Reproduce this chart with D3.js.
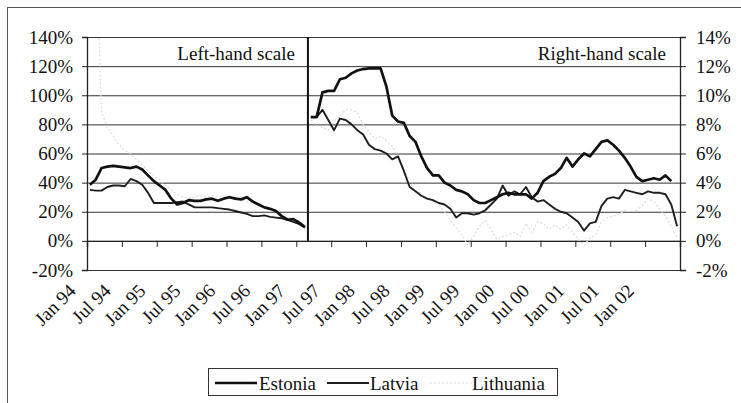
<!DOCTYPE html>
<html>
<head>
<meta charset="utf-8">
<script src="https://cdn.jsdelivr.net/npm/d3@7"></script>
<style>
body{margin:0;background:#fff;}
svg{display:block;}
svg text{font-family:"Liberation Serif","Times New Roman",serif;}
</style>
</head>
<body>
<svg id="chart" width="741" height="403"></svg>
<script>
// monthly values, Jan 94 .. Jun 02 (index 0 = Jan 94)
var tickLabels = ["Jan 94","Jul 94","Jan 95","Jul 95","Jan 96","Jul 96","Jan 97","Jul 97",
	"Jan 98","Jul 98","Jan 99","Jul 99","Jan 00","Jul 00","Jan 01","Jul 01","Jan 02"];
var leftTicks = [-20,0,20,40,60,80,100,120,140];
var rightTicks = [-2,0,2,4,6,8,10,12,14];
var splitAt = 38; // from Mar 97 the series are read against the right-hand scale

var estonia = [38.5,42,50,51,51.5,51,50.5,50,51,49,45,41,38,35,29,25,26,28,27.5,27.5,
	28.5,29,27.5,29,30,29,28.5,30,27,25,23,22,20.5,17,14.5,15,12.5,9.5,
	8.5,8.5,10.2,10.3,10.3,11.1,11.2,11.5,11.7,11.8,11.85,11.85,11.85,10.6,8.6,8.2,8.1,7.2,6.8,5.8,5.0,4.5,
	4.5,4.0,3.8,3.5,3.4,3.2,2.8,2.6,2.6,2.8,3.0,3.2,3.3,3.2,3.2,3.2,2.9,3.3,4.1,4.4,
	4.6,5.0,5.7,5.1,5.6,6.0,5.8,6.3,6.8,6.9,6.6,6.2,5.7,5.1,4.4,4.1,4.2,4.3,4.2,4.5,4.1];
var latvia = [35,34.5,34.5,37,38,38,37.5,42.5,41,38.5,33,26,26,26,26,26.5,27,25,23,23,
	23,23,22.5,22,21.5,20.5,19.5,18.5,17,17,17.5,16.5,16,15.5,14.5,13,11.5,9,
	8.5,8.5,9.0,8.3,7.6,8.4,8.3,8.0,7.6,7.3,6.6,6.3,6.2,6.0,5.6,5.8,4.8,3.7,3.4,3.1,2.9,2.8,
	2.6,2.5,2.2,1.6,1.9,1.9,1.8,1.9,2.1,2.5,2.9,3.8,3.1,3.4,3.2,3.7,3.0,2.7,2.8,2.5,
	2.2,2.0,1.9,1.6,1.3,0.7,1.2,1.3,2.4,2.9,3.0,2.9,3.5,3.4,3.3,3.2,3.4,3.3,3.3,3.2,2.5,1.0];
var lithuania = [215,206,88,78,72,66,62,60,56,52,48,45,42,38,35,32,30,29,30,31,
	30,31,30,31,31,29,28,27,26,25,24,22,20,18,16,15,13,10,
	8.3,7.9,7.8,7.6,8.2,8.6,9.0,9.0,8.8,8.0,7.5,7.0,7.2,6.9,6.5,5.8,5.0,4.0,3.4,3.3,2.9,2.7,
	2.4,2.0,1.4,0.9,0.4,-0.3,0.3,1.0,1.4,0.8,0.1,0.3,0.4,0.6,0.3,1.2,0.6,1.3,1.2,0.8,
	1.1,0.8,1.1,0.6,0.1,-0.3,0.2,0.4,1.3,1.6,1.7,1.8,2.1,2.0,2.1,2.4,2.9,2.7,2.2,1.7,1.0,0.2];

var series = [
	{name:"Lithuania", values:lithuania, color:"#dcdcdc", width:1.2, dash:"2,2"},
	{name:"Latvia", values:latvia, color:"#1e1e1e", width:1.9, dash:null},
	{name:"Estonia", values:estonia, color:"#111", width:2.7, dash:null}
];

var dim = {left:87, right:680, top:37, bottom:270};
var nMonths = 102;
var serif = "Liberation Serif, Times New Roman, serif";

var svg = d3.select("#chart").attr("font-family", serif);

var x = d3.scaleLinear().domain([0, nMonths]).range([dim.left, dim.right]);
var yL = d3.scaleLinear().domain([-20, 140]).range([dim.bottom, dim.top]);
var yR = d3.scaleLinear().domain([-2, 14]).range([dim.bottom, dim.top]);

// outer frame
svg.append("rect")
	.attr("x", 7.5).attr("y", 7.5)
	.attr("width", 760).attr("height", 420)
	.attr("fill", "none").attr("stroke", "#555").attr("stroke-width", 1);

// gridlines
svg.append("g")
	.attr("class", "grid")
	.attr("transform", "translate(" + dim.left + ",0)")
	.call(d3.axisLeft(yL).tickValues(leftTicks).tickSize(-(dim.right - dim.left)).tickFormat(""))
	.call(function(g) {
		g.select(".domain").remove();
		g.selectAll("line").attr("stroke", "#333").attr("stroke-width", 1);
	});

var styleAxis = function(g) {
	g.attr("font-family", serif).attr("font-size", 19);
	g.select(".domain").attr("stroke", "#222").attr("stroke-width", 1.3);
	g.selectAll("line").attr("stroke", "#222");
	g.selectAll("text").attr("fill", "#111");
};

// left axis
svg.append("g")
	.attr("transform", "translate(" + dim.left + ",0)")
	.call(d3.axisLeft(yL).tickValues(leftTicks).tickSize(5).tickPadding(9)
		.tickFormat(function(d) { return d + "%"; }))
	.call(styleAxis);

// right axis
svg.append("g")
	.attr("transform", "translate(" + dim.right + ",0)")
	.call(d3.axisRight(yR).tickValues(rightTicks).tickSize(6).tickPadding(10)
		.tickFormat(function(d) { return d + "%"; }))
	.call(styleAxis);

// category axis on the zero line
var xTicks = d3.range(0, nMonths + 1, 6);
svg.append("g")
	.attr("transform", "translate(0," + yL(0) + ")")
	.call(d3.axisBottom(x).tickValues(xTicks).tickSize(6).tickFormat(""))
	.call(function(g) {
		g.select(".domain").attr("stroke", "#222").attr("stroke-width", 1.4);
		g.selectAll("line").attr("stroke", "#222");
	});

svg.append("g")
	.attr("font-size", 19)
	.attr("fill", "#111")
	.attr("text-anchor", "end")
	.selectAll("text")
	.data(tickLabels)
	.enter().append("text")
	.attr("transform", function(d, i) {
		return "translate(" + (x(xTicks[i]) - 10) + "," + (dim.bottom + 22) + ") rotate(-45)";
	})
	.text(function(d) { return d; });

// divider between the two scales
svg.append("line")
	.attr("x1", x(splitAt)).attr("x2", x(splitAt))
	.attr("y1", dim.top).attr("y2", yL(0))
	.attr("stroke", "#111").attr("stroke-width", 2);

svg.append("text")
	.attr("x", 295).attr("y", 60)
	.attr("text-anchor", "end").attr("font-size", 19).attr("fill", "#111")
	.text("Left-hand scale");
svg.append("text")
	.attr("x", 666).attr("y", 60)
	.attr("text-anchor", "end").attr("font-size", 19).attr("fill", "#111")
	.text("Right-hand scale");

// lines
svg.append("clipPath").attr("id", "plotClip")
	.append("rect")
	.attr("x", dim.left).attr("y", dim.top)
	.attr("width", dim.right - dim.left).attr("height", dim.bottom - dim.top);

var lineL = d3.line()
	.x(function(d) { return x(d.i + 0.5); })
	.y(function(d) { return yL(d.v); });
var lineR = d3.line()
	.x(function(d) { return x(d.i + 0.5); })
	.y(function(d) { return yR(d.v); });

var lines = svg.append("g").attr("clip-path", "url(#plotClip)");
series.forEach(function(s) {
	var pts = s.values.map(function(v, i) { return {i:i, v:v}; });
	var parts = [[lineL, pts.slice(0, splitAt)], [lineR, pts.slice(splitAt)]];
	parts.forEach(function(p) {
		lines.append("path")
			.attr("d", p[0](p[1]))
			.attr("fill", "none")
			.attr("stroke", s.color)
			.attr("stroke-width", s.width)
			.attr("stroke-linejoin", "round")
			.attr("stroke-dasharray", s.dash);
	});
});

// legend
var legend = svg.append("g");
legend.append("rect")
	.attr("x", 208.5).attr("y", 368.5)
	.attr("width", 349).attr("height", 27)
	.attr("fill", "#fff").attr("stroke", "#333").attr("stroke-width", 1);

var legendItems = [
	{s:series[2], lx:215, tx:259},
	{s:series[1], lx:327, tx:370},
	{s:series[0], lx:430, tx:472}
];
legendItems.forEach(function(d) {
	legend.append("line")
		.attr("x1", d.lx).attr("x2", d.lx + 42)
		.attr("y1", 383).attr("y2", 383)
		.attr("stroke", d.s.color).attr("stroke-width", d.s.width)
		.attr("stroke-dasharray", d.s.dash);
	legend.append("text")
		.attr("x", d.tx).attr("y", 390)
		.attr("font-size", 19).attr("fill", "#111")
		.text(d.s.name);
});
</script>
</body>
</html>
